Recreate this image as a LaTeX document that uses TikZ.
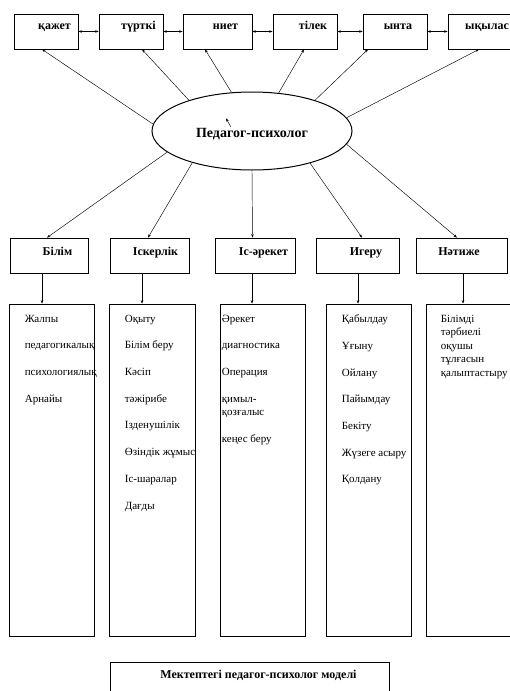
\documentclass[tikz,border=0pt]{standalone}
\usepackage{fontspec}
\setmainfont{Liberation Serif}
\usetikzlibrary{shapes.geometric,arrows.meta,calc}

\begin{document}
\begin{tikzpicture}[x=1pt, y=-1pt, >={Stealth[length=3.5pt,width=2.5pt]},
    pad/.style={execute at begin node={\hspace*{#1}}},
    topbox/.style={draw, line width=0.7pt, minimum width=64pt, inner sep=0pt,
      text height=15pt, text depth=20pt, font=\fontsize{12}{14}\selectfont\bfseries},
    midbox/.style={draw, line width=0.7pt, inner sep=0pt,
      text height=17pt, text depth=18pt, font=\fontsize{12}{14}\selectfont\bfseries},
    colbox/.style={draw, line width=0.7pt, minimum height=332pt, inner sep=0pt},
    coltext/.style={anchor=north west, inner sep=0pt, align=left,
      font=\fontsize{11}{26.7}\selectfont},
    arr/.style={->, line width=0.45pt},
    link/.style={<->, line width=1pt}
  ]
    \useasboundingbox (0,0) rectangle (510,691);

    % top row
    \node[topbox, pad=17pt] (kazhet) at (46,31.5) {қажет};
    \node[topbox, pad=15pt] (turtki) at (131,31.5) {түрткі};
    \node[topbox, pad=16pt, minimum width=69pt] (niet) at (217.5,31.5) {ниет};
    \node[topbox, pad=16pt] (tilek) at (305,31.5) {тілек};
    \node[topbox, pad=6pt] (ynta) at (395,31.5) {ынта};
    \node[topbox, pad=14pt] (yqylas) at (480,31.5) {ықылас};

    \draw[link] (kazhet) -- (turtki);
    \draw[link] (turtki) -- (niet);
    \draw[link] (niet) -- (tilek);
    \draw[link] (tilek) -- (ynta);
    \draw[link] (ynta) -- (yqylas);

    % centre
    \node[ellipse, draw, line width=1pt, minimum width=200pt, minimum height=78pt,
      inner sep=0pt, text height=12pt, text depth=-6pt,
      font=\fontsize{14}{16}\selectfont\bfseries] (ped) at (252,131) {Педагог-психолог};
    \coordinate (tickA) at ($(ped)+(-21.3,-4.3)$);
    \coordinate (tickB) at ($(ped)+(-26,-12.7)$);
    \draw[arr] (tickA) -- (tickB);

    % ellipse to top row
    \draw[arr] (ped.176.6) -- ($(kazhet.south)+(-4,0)$);
    \draw[arr] (ped.154.2) -- ($(turtki.south)+(11,0)$);
    \draw[arr] (ped.118.3) -- ($(niet.south)+(-12.5,0)$);
    \draw[arr] (ped.55.6) -- ($(tilek.south)+(-1,0)$);
    \draw[arr] (ped.26.6) -- ($(ynta.south)+(-27,0)$);
    \draw[arr] (ped.8.3) -- ($(yqylas.south)+(-1,0)$);

    % second row
    \node[midbox, pad=17pt, minimum width=78pt] (bilim) at (49,255.5) {Білім};
    \node[midbox, pad=12pt, minimum width=79pt] (iskerlik) at (149.5,255.5) {Іскерлік};
    \node[midbox, pad=17pt, minimum width=80pt] (isareket) at (255,255.5) {Іс-әрекет};
    \node[midbox, pad=17pt, minimum width=83pt] (igeru) at (357.5,255.5) {Игеру};
    \node[midbox, pad=-5pt, minimum width=91pt] (natizhe) at (461.5,255.5) {Нәтиже};

    % ellipse to second row
    \draw[arr] (ped.194.7) -- ($(bilim.north)+(-2,0)$);
    \draw[arr] (ped.208.9) -- ($(iskerlik.north)+(-1.5,0)$);
    \draw[arr] (ped.270) -- ($(isareket.north)+(-2.5,0)$);
    \draw[arr] (ped.331.5) -- ($(igeru.north)+(4.5,0)$);
    \draw[arr] (ped.352.4) -- ($(natizhe.north)+(-4.5,0)$);

    % columns
    \node[colbox, minimum width=85pt] (col1) at (51.5,470) {};
    \node[colbox, minimum width=86pt] (col2) at (152,470) {};
    \node[colbox, minimum width=85pt] (col3) at (262.5,470) {};
    \node[colbox, minimum width=85pt] (col4) at (368.5,470) {};
    \node[colbox, minimum width=86pt] (col5) at (469,470) {};

    \draw[arr] ($(bilim.south)+(-7,0)$) coordinate (d1) -- (d1 |- col1.north);
    \draw[arr] ($(iskerlik.south)+(-7.5,0)$) coordinate (d2) -- (d2 |- col2.north);
    \draw[arr] ($(isareket.south)+(-3,0)$) coordinate (d3) -- (d3 |- col3.north);
    \draw[arr] ($(igeru.south)+(0.5,0)$) coordinate (d4) -- (d4 |- col4.north);
    \draw[arr] ($(natizhe.south)+(1.5,0)$) coordinate (d5) -- (d5 |- col5.north);

    \node[coltext] (txt1) at ($(col1.north west)+(16,11)$)
      {Жалпы\\педагогикалық\\психологиялық\\Арнайы};
    \node[coltext] (txt2) at ($(col2.north west)+(16,11)$)
      {Оқыту\\Білім беру\\Кәсіп\\тәжірибе\\Ізденушілік\\Өзіндік жұмыс\\Іс-шаралар\\Дағды};
    \node[coltext] (txt3) at ($(col3.north west)+(2,11)$)
      {Әрекет\\диагностика\\Операция\\қимыл-\\[-13.5pt]қозғалыс\\кеңес беру};
    \node[coltext] (txt4) at ($(col4.north west)+(16,11)$)
      {Қабылдау\\Ұғыну\\Ойлану\\Пайымдау\\Бекіту\\Жүзеге асыру\\Қолдану};
    \node[coltext, font=\fontsize{11}{13.5}\selectfont] (txt5) at ($(col5.north west)+(15,11)$)
      {Білімді\\тәрбиелі\\оқушы\\тұлғасын\\қалыптастыру};

    % caption box
    \node[draw, line width=0.7pt, minimum width=279pt, inner sep=0pt, pad=18pt,
      text height=16pt, text depth=24pt, font=\fontsize{12}{14}\selectfont\bfseries]
      (model) at (249.5,682) {Мектептегі педагог-психолог моделі};
  \end{tikzpicture}
\end{document}
